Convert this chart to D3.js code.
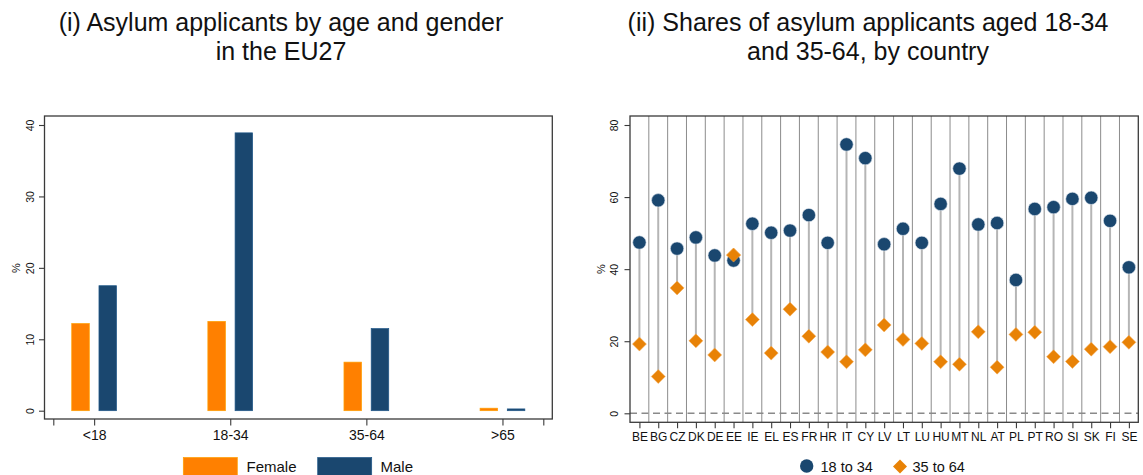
<!DOCTYPE html>
<html><head><meta charset="utf-8">
<script src="https://cdn.jsdelivr.net/npm/d3@7"></script>
<style>
body{margin:0;background:#fff}
svg{display:block}
text{font-family:"Liberation Sans",Arial,Helvetica,sans-serif;fill:#111}
</style>
</head><body>
<svg id="c" width="1143" height="475"></svg>
<script>
// ---------- data ----------
const ageGroups = ["<18", "18-34", "35-64", ">65"];
const femaleShare = [12.2, 12.5, 6.8, 0.35];
const maleShare = [17.5, 38.9, 11.5, 0.25];
const leftTicks = [0, 10, 20, 30, 40];
const genderLabels = ["Female", "Male"];

const countries = ["BE","BG","CZ","DK","DE","EE","IE","EL","ES","FR","HR","IT","CY","LV","LT","LU","HU","MT","NL","AT","PL","PT","RO","SI","SK","FI","SE"];
const share18to34 = [47.4,59.1,45.7,48.8,43.8,42.4,52.6,50.1,50.7,55.0,47.3,74.6,70.8,46.9,51.2,47.3,58.1,67.9,52.4,52.8,37.0,56.7,57.2,59.5,59.8,53.4,40.5];
const share35to64 = [19.2,10.2,34.8,20.1,16.2,43.9,26.0,16.7,28.9,21.4,17.0,14.3,17.6,24.5,20.5,19.4,14.3,13.6,22.6,12.8,21.9,22.5,15.7,14.4,17.8,18.5,19.7];
const rightTicks = [0, 20, 40, 60, 80];
const seriesLabels = ["18 to 34", "35 to 64"];

const titleLeft = ["(i) Asylum applicants by age and gender", "in the EU27"];
const titleRight = ["(ii) Shares of asylum applicants aged 18-34", "and 35-64, by country"];

// ---------- styles ----------
const NAVY = "#1a476f", ORANGE = "#ff8000", DORANGE = "#e88206";
const AXIS = "#3a3a3a";

const svg = d3.select("#c");

function title(lines, cx) {
  svg.append("text").attr("x", cx).attr("y", 31).attr("text-anchor", "middle")
    .style("font-size", "25px").text(lines[0]);
  svg.append("text").attr("x", cx).attr("y", 59.5).attr("text-anchor", "middle")
    .style("font-size", "25px").text(lines[1]);
}
title(titleLeft, 281);
title(titleRight, 868);

// ================= LEFT CHART =================
{
  const F = {l: 44.5, t: 116, r: 552.3, b: 419};
  const x = d3.scaleLinear().domain([0.7, 4.3]).range([53.3, 543.3]);
  const y = d3.scaleLinear().domain([0, 40]).range([410.7, 125]);
  const g = svg.append("g");

  // bars
  const bw = 0.129, off = 0.1;
  const bars = [
    {vals: femaleShare, dx: -off, color: ORANGE},
    {vals: maleShare, dx: off, color: NAVY}
  ];
  bars.forEach(s => {
    g.selectAll(null).data(s.vals).enter().append("rect")
      .attr("x", (d, i) => x(i + 1 + s.dx - bw / 2))
      .attr("width", x(1 + bw) - x(1))
      .attr("y", d => y(d))
      .attr("height", d => y(0) - y(d))
      .attr("fill", s.color)
      .attr("stroke", d3.color(s.color).brighter(0.6))
      .attr("stroke-width", 0.7);
  });

  // frame
  g.append("rect").attr("x", F.l).attr("y", F.t).attr("width", F.r - F.l).attr("height", F.b - F.t)
    .attr("fill", "none").attr("stroke", AXIS).attr("stroke-width", 1.3);

  // y axis
  const ya = g.append("g").attr("transform", `translate(${F.l},0)`)
    .call(d3.axisLeft(y).tickValues(leftTicks).tickSize(5.5).tickPadding(8).tickFormat(d3.format("d")));
  ya.select(".domain").remove();
  ya.selectAll("line").attr("stroke", AXIS).attr("stroke-width", 1.1);
  ya.selectAll("text").attr("transform", "rotate(-90)").attr("text-anchor", "middle")
    .attr("x", 0).attr("y", -14).attr("dy", "0.35em").style("font-size", "10.5px").style("fill", "#111");
  g.append("text").attr("transform", `translate(16,268) rotate(-90)`).attr("text-anchor", "middle")
    .attr("dy", "0.35em").style("font-size", "11px").text("%");

  // x axis
  const xa = g.append("g").attr("transform", `translate(0,${F.b})`)
    .call(d3.axisBottom(x).tickValues([0.7, 1, 2, 3, 4, 4.3]).tickSize(6.5).tickPadding(5)
      .tickFormat(d => Number.isInteger(d) ? ageGroups[d - 1] : ""));
  xa.select(".domain").remove();
  xa.selectAll("line").attr("stroke", AXIS).attr("stroke-width", 1.1);
  xa.selectAll("text").style("font-size", "14px").style("fill", "#111");

  // legend
  const lg = g.append("g");
  const items = [{label: genderLabels[0], color: ORANGE, x: 183.3, tx: 246.5},
                 {label: genderLabels[1], color: NAVY, x: 317.7, tx: 380.5}];
  items.forEach(it => {
    lg.append("rect").attr("x", it.x).attr("y", 457.5).attr("width", 54).attr("height", 20)
      .attr("fill", it.color).attr("stroke", d3.color(it.color).brighter(0.6)).attr("stroke-width", 0.7);
    lg.append("text").attr("x", it.tx).attr("y", 467).attr("dy", "0.35em")
      .style("font-size", "15px").text(it.label);
  });
}

// ================= RIGHT CHART =================
{
  const F = {l: 630, t: 116, r: 1138.3, b: 422.3};
  const x = d3.scaleLinear().domain([0.5, countries.length + 0.5]).range([F.l, F.r]);
  const y = d3.scaleLinear().domain([0, 80]).range([413.3, 125]);
  const g = svg.append("g");

  // vertical gridlines between categories
  const grid = d3.range(1, countries.length).map(k => k + 0.5);
  g.selectAll(null).data(grid).enter().append("line")
    .attr("x1", d => x(d)).attr("x2", d => x(d)).attr("y1", F.t).attr("y2", F.b)
    .attr("stroke", "#8c8c8c").attr("stroke-width", 1);

  // zero dashed line
  g.append("line").attr("x1", F.l).attr("x2", F.r).attr("y1", y(0)).attr("y2", y(0))
    .attr("stroke", "#8a8a8a").attr("stroke-width", 1.4).attr("stroke-dasharray", "7,4.5");

  // spikes
  g.selectAll(null).data(countries).enter().append("line")
    .attr("x1", (d, i) => x(i + 1)).attr("x2", (d, i) => x(i + 1))
    .attr("y1", (d, i) => y(share18to34[i])).attr("y2", (d, i) => y(share35to64[i]))
    .attr("stroke", "#b5b5b5").attr("stroke-width", 2);

  // diamonds (35-64)
  const diamond = d3.symbol().type(d3.symbolSquare).size(98);
  g.selectAll(null).data(share35to64).enter().append("path")
    .attr("d", diamond)
    .attr("transform", (d, i) => `translate(${x(i + 1)},${y(d)}) rotate(45)`)
    .attr("fill", DORANGE).attr("stroke", "#f3b060").attr("stroke-width", 0.5);

  // circles (18-34)
  g.selectAll(null).data(share18to34).enter().append("circle")
    .attr("cx", (d, i) => x(i + 1)).attr("cy", d => y(d)).attr("r", 6.7)
    .attr("fill", NAVY).attr("stroke", "#dfe6ee").attr("stroke-width", 0.6);

  // diamonds lying above their circle are drawn on top (EE)
  g.selectAll(null).data(share35to64.map((d, i) => ({d, i})).filter(o => o.d > share18to34[o.i]))
    .enter().append("path").attr("d", diamond)
    .attr("transform", o => `translate(${x(o.i + 1)},${y(o.d)}) rotate(45)`)
    .attr("fill", DORANGE).attr("stroke", "#f3b060").attr("stroke-width", 0.5);

  // frame
  g.append("rect").attr("x", F.l).attr("y", F.t).attr("width", F.r - F.l).attr("height", F.b - F.t)
    .attr("fill", "none").attr("stroke", AXIS).attr("stroke-width", 1.3);

  // y axis
  const ya = g.append("g").attr("transform", `translate(${F.l},0)`)
    .call(d3.axisLeft(y).tickValues(rightTicks).tickSize(5.5).tickPadding(8).tickFormat(d3.format("d")));
  ya.select(".domain").remove();
  ya.selectAll("line").attr("stroke", AXIS).attr("stroke-width", 1.1);
  ya.selectAll("text").attr("transform", "rotate(-90)").attr("text-anchor", "middle")
    .attr("x", 0).attr("y", -16).attr("dy", "0.35em").style("font-size", "10.5px").style("fill", "#111");
  g.append("text").attr("transform", `translate(601,269) rotate(-90)`).attr("text-anchor", "middle")
    .attr("dy", "0.35em").style("font-size", "11px").text("%");

  // x axis
  const xa = g.append("g").attr("transform", `translate(0,${F.b})`)
    .call(d3.axisBottom(x).tickValues(d3.range(1, countries.length + 1)).tickSize(6).tickPadding(4)
      .tickFormat(d => countries[d - 1]));
  xa.select(".domain").remove();
  xa.selectAll("line").attr("stroke", AXIS).attr("stroke-width", 1.1);
  xa.selectAll("text").style("font-size", "12px").style("fill", "#111");

  // legend
  g.append("circle").attr("cx", 806.7).attr("cy", 466).attr("r", 6.7).attr("fill", NAVY);
  g.append("text").attr("x", 820.5).attr("y", 466.5).attr("dy", "0.35em").style("font-size", "14.5px").text(seriesLabels[0]);
  g.append("path").attr("d", diamond).attr("transform", "translate(900,466.5) rotate(45)").attr("fill", DORANGE);
  g.append("text").attr("x", 912.5).attr("y", 466.5).attr("dy", "0.35em").style("font-size", "14.5px").text(seriesLabels[1]);
}
</script>
</body></html>
